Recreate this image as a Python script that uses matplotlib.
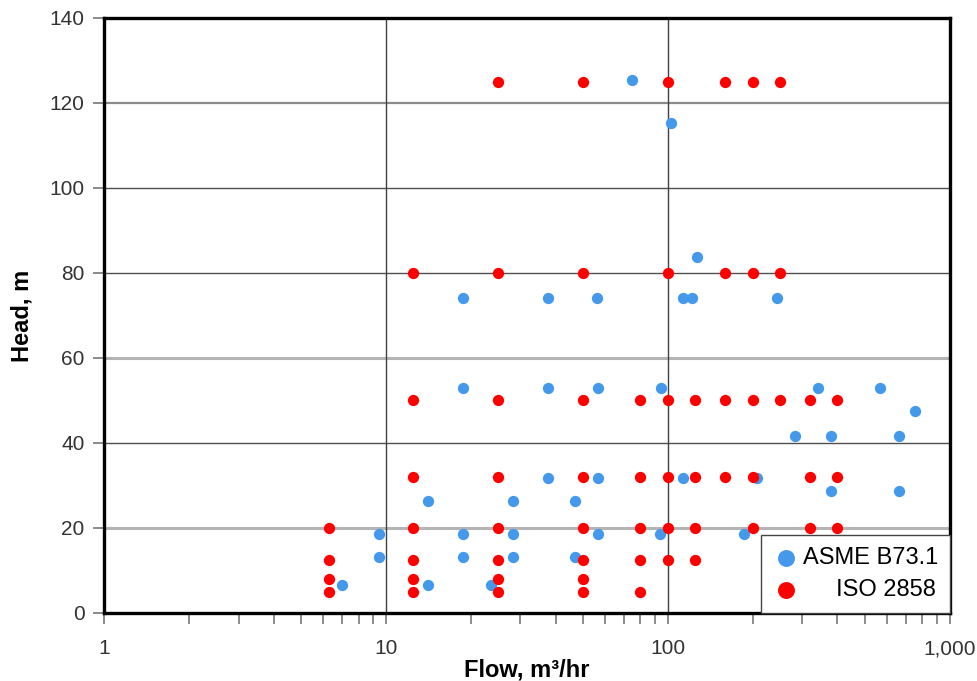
import matplotlib
matplotlib.use("Agg")
import matplotlib.pyplot as plt
from matplotlib.ticker import FixedLocator, FuncFormatter, NullFormatter

plt.rcParams['font.family'] = ['Liberation Sans', 'DejaVu Sans']

# ASME B73.1 pumps (flow m3/hr, head m)
asme_flow = [74.5, 103, 127,
             18.7, 37.5, 56.0, 113, 121.6, 244,
             18.8, 37.5, 56.5, 94.4, 340, 565,
             751,
             282, 378, 659,
             37.5, 56.5, 113, 207,
             378, 659,
             14.1, 28.2, 46.8,
             9.45, 18.8, 28.2, 56.5, 93.7, 187,
             9.45, 18.8, 28.2, 46.8,
             7.0, 14.1, 23.6]
asme_head = [125.4, 115.3, 83.8,
             74.1, 74.1, 74.1, 74.1, 74.1, 74.1,
             53.0, 53.0, 53.0, 53.0, 53.0, 53.0,
             47.5,
             41.6, 41.6, 41.6,
             31.8, 31.8, 31.8, 31.8,
             28.7, 28.7,
             26.4, 26.4, 26.4,
             18.6, 18.6, 18.6, 18.6, 18.6, 18.6,
             13.2, 13.2, 13.2, 13.2,
             6.6, 6.6, 6.6]

# ISO 2858 pumps
iso_flow = [25, 50, 100, 160, 200, 250,
            12.5, 25, 50, 100, 160, 200, 250,
            12.5, 25, 50, 80, 100, 125, 160, 200, 250, 320, 400,
            12.5, 25, 50, 80, 100, 125, 160, 200, 320, 400,
            6.3, 12.5, 25, 50, 80, 100, 125, 200, 320, 400,
            6.3, 12.5, 25, 50, 80, 100, 125,
            6.3, 12.5, 25, 50,
            6.3, 12.5, 25, 50, 80]
iso_head = [125] * 6 + [80] * 7 + [50] * 11 + [32] * 10 + [20] * 10 + [12.5] * 7 + [8] * 4 + [5] * 5

y_ticks = [0, 20, 40, 60, 80, 100, 120, 140]
x_ticks = [1, 10, 100, 1000]

fig = plt.figure(figsize=(9.77, 6.81), dpi=100)
ax = fig.add_axes([0.1065, 0.0999, 0.8655, 0.8737])

# grid lines drawn by hand so each can get its own shade
for y in [20, 40, 60, 80, 100, 120]:
    if y in (20, 60):
        ax.axhline(y, color='#b4b4b4', lw=2.2, zorder=1)
    elif y == 120:
        ax.axhline(y, color='#8a8a8a', lw=1.6, zorder=1)
    else:
        ax.axhline(y, color='#505050', lw=1.0, zorder=1)
for x in [10, 100]:
    ax.axvline(x, color='#404040', lw=1.0, zorder=1)

ax.scatter(asme_flow, asme_head, s=66, color='#4499ea', lw=0, zorder=3, label='ASME B73.1')
ax.scatter(iso_flow, iso_head, s=66, color='#ff0000', lw=0, zorder=4, label='     ISO 2858')

ax.set_xscale('log')
ax.set_xlim(1, 1000)
ax.set_ylim(0, 140)
ax.set_yticks(y_ticks)
ax.xaxis.set_major_locator(FixedLocator(x_ticks))
ax.xaxis.set_major_formatter(FuncFormatter(lambda v, p: f"{v:,.0f}"))
minors = [m * d for d in [1, 10, 100] for m in range(2, 10)]
ax.xaxis.set_minor_locator(FixedLocator(minors))
ax.xaxis.set_minor_formatter(NullFormatter())

ax.tick_params(axis='both', which='both', direction='out', length=8, width=1.2,
               color='#777777', labelcolor='#333333', labelsize=15)
ax.tick_params(axis='x', which='major', pad=11)
ax.tick_params(axis='y', which='major', pad=6)

for s in ax.spines.values():
    s.set_linewidth(2.4)
    s.set_color('black')
    s.set_zorder(5)

ax.set_xlabel('Flow, m³/hr', fontsize=17, fontweight='bold')
ax.xaxis.set_label_coords(0.5, -0.076)
ax.set_ylabel('Head, m', fontsize=17, fontweight='bold')
ax.yaxis.set_label_coords(-0.083, 0.5)

leg = ax.legend(loc='lower right', bbox_to_anchor=(1, 0), borderaxespad=0,
                fancybox=False, edgecolor='#444444', framealpha=1, fontsize=17,
                markerscale=1.5, handlelength=1.1, handletextpad=0.15,
                labelspacing=0.42, borderpad=0.5)
leg.get_frame().set_linewidth(1.0)
leg.set_zorder(6)

plt.savefig('out.png', dpi=100)
